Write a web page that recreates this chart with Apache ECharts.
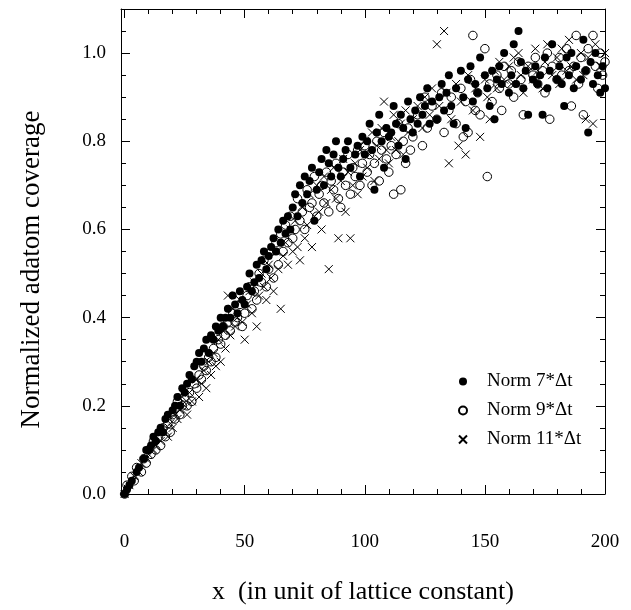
<!DOCTYPE html>
<html>
<head>
<meta charset="utf-8">
<script src="https://cdn.jsdelivr.net/npm/echarts@6/dist/echarts.min.js"></script>
<style>
html,body{margin:0;padding:0;background:#fff;}
#chart{width:631px;height:610px;}
</style>
</head>
<body>
<div id="chart"></div>
<script>
// ---- data ----
var seriesNames = ['Norm 7*\u0394t', 'Norm 9*\u0394t', 'Norm 11*\u0394t'];
var xTickValues = [0,10,20,30,40,50,60,70,80,90,100,110,120,130,140,150,160,170,180,190,200];
var xLabelValues = [0,50,100,150,200];
var yTickValues = [0,0.05,0.1,0.15,0.2,0.25,0.3,0.35,0.4,0.45,0.5,0.55,0.6,0.65,0.7,0.75,0.8,0.85,0.9,0.95,1.0,1.05];
var yLabelValues = [0,0.2,0.4,0.6,0.8,1.0];

var norm7 = [
[0,0.0],[1,0.01],[2,0.02],[3,0.03],[5,0.05],[6,0.06],[8,0.08],[9,0.1],[10,0.1],
[11,0.11],[12,0.13],[13,0.12],[14,0.14],[15,0.15],[16,0.14],[17,0.17],[18,0.18],[20,0.19],
[21,0.2],[22,0.22],[23,0.2],[24,0.24],[25,0.23],[26,0.25],[27,0.27],[28,0.26],[29,0.29],[30,0.3],
[31,0.32],[32,0.3],[33,0.33],[34,0.35],[35,0.32],[36,0.36],[37,0.35],[38,0.38],[39,0.37],[40,0.4],
[41,0.38],[42,0.4],[43,0.42],[44,0.4],[45,0.45],[46,0.43],[47,0.41],[48,0.46],[49,0.44],[50,0.43],
[51,0.47],[52,0.5],[53,0.46],[54,0.48],[55,0.52],[56,0.49],[57,0.53],[58,0.55],[59,0.51],[60,0.54],
[61,0.56],[62,0.58],[63,0.55],[64,0.6],[65,0.57],[66,0.62],[67,0.59],[68,0.63],[69,0.6],[70,0.65],
[71,0.68],[72,0.63],[73,0.7],[74,0.66],[75,0.72],[76,0.68],[77,0.71],[78,0.74],[79,0.62],[80,0.69],
[81,0.73],[82,0.76],[83,0.7],[84,0.78],[85,0.75],[86,0.72],[87,0.77],[88,0.8],[89,0.74],[90,0.72],
[91,0.76],[92,0.78],[93,0.8],[94,0.74],[96,0.77],[97,0.79],[98,0.72],[99,0.81],[100,0.77],
[101,0.8],[102,0.84],[103,0.78],[104,0.69],[105,0.82],[106,0.86],[107,0.8],[108,0.74],[109,0.83],[110,0.81],
[111,0.82],[112,0.88],[113,0.84],[114,0.79],[115,0.86],[116,0.83],[117,0.76],[118,0.89],[119,0.85],[120,0.82],
[121,0.87],[122,0.84],[123,0.9],[124,0.86],[125,0.88],[126,0.92],[127,0.84],[128,0.89],[130,0.85],
[131,0.9],[132,0.93],[133,0.87],[134,0.91],[135,0.95],[136,0.88],[137,0.84],[138,0.92],[140,0.96],
[141,0.9],[142,0.83],[143,0.94],[144,0.97],[145,0.89],[146,0.93],[147,0.91],[148,0.99],[150,0.95],
[151,0.92],[152,0.88],[153,0.96],[154,0.85],[155,0.94],[156,0.97],[157,0.93],[158,1.0],[160,0.91],
[161,0.95],[162,1.02],[163,0.93],[164,1.05],[165,0.98],[166,0.92],[167,0.96],[168,0.86],[170,0.94],
[171,0.97],[172,0.93],[173,0.95],[174,0.86],[175,0.99],[176,0.92],[177,0.96],[178,1.02],[180,0.94],
[181,0.97],[182,0.93],[183,0.88],[184,0.99],[185,0.95],[186,1.0],[187,0.92],[188,0.97],[190,0.94],
[191,1.03],[192,0.96],[193,0.82],[194,0.98],[195,0.93],[196,1.0],[197,0.95],[198,0.91],[199,0.97],[200,0.92]
];

var norm9 = [
[0,0.0],[1,0.02],[3,0.04],[4,0.03],[5,0.06],[7,0.05],[8,0.08],[9,0.07],[10,0.1],[11,0.09],
[12,0.12],[13,0.1],[14,0.13],[15,0.11],[16,0.15],[17,0.13],[18,0.16],[19,0.14],[20,0.18],[21,0.17],
[22,0.21],[23,0.18],[24,0.2],[25,0.22],[26,0.2],[27,0.23],[28,0.21],[29,0.25],[30,0.24],[31,0.27],
[32,0.26],[33,0.29],[34,0.28],[35,0.31],[36,0.3],[37,0.33],[38,0.31],[39,0.35],[40,0.34],[41,0.38],
[42,0.36],[43,0.39],[44,0.37],[45,0.41],[46,0.39],[47,0.4],[48,0.43],[49,0.38],[50,0.41],[51,0.45],
[52,0.47],[53,0.42],[54,0.46],[55,0.44],[56,0.5],[57,0.48],[58,0.53],[59,0.47],[60,0.51],[61,0.55],
[62,0.49],[63,0.57],[64,0.52],[65,0.59],[66,0.55],[67,0.61],[68,0.57],[69,0.63],[70,0.58],[71,0.6],
[72,0.67],[73,0.62],[74,0.64],[75,0.6],[76,0.69],[77,0.65],[78,0.66],[79,0.72],[80,0.63],[81,0.68],
[82,0.7],[83,0.66],[84,0.73],[85,0.64],[86,0.71],[87,0.69],[88,0.75],[89,0.67],[90,0.65],[91,0.73],
[92,0.7],[93,0.77],[94,0.68],[95,0.74],[96,0.72],[97,0.78],[98,0.7],[99,0.75],[100,0.79],[101,0.73],
[102,0.77],[103,0.7],[104,0.75],[105,0.8],[106,0.71],[107,0.78],[108,0.82],[109,0.76],[110,0.73],
[111,0.79],[112,0.68],[113,0.77],[114,0.84],[115,0.69],[116,0.8],[117,0.75],[118,0.83],[119,0.78],
[120,0.81],[122,0.86],[124,0.79],[125,0.9],[126,0.83],[128,0.88],[130,0.85],[132,0.91],[133,0.82],
[135,0.87],[136,0.9],[138,0.84],[140,0.92],[141,0.81],[142,0.89],[143,0.82],[144,0.94],[145,1.04],
[146,0.87],[147,0.91],[148,0.86],[150,1.01],[151,0.72],[152,0.93],[153,0.89],[155,0.95],[156,0.92],
[157,0.87],[158,0.97],[160,0.93],[161,0.96],[162,0.9],[164,0.98],[165,0.94],[166,0.86],[168,0.97],
[170,0.95],[171,0.99],[172,0.93],[174,0.96],[175,0.91],[176,1.0],[177,0.85],[178,0.97],[180,0.94],
[181,0.99],[182,0.95],[184,1.01],[185,0.96],[186,0.88],[187,0.97],[188,1.04],[189,0.93],[190,0.99],
[191,0.86],[192,0.96],[193,1.01],[195,1.04],[196,0.97],[197,0.92],[198,1.0],[199,0.95],[200,0.98]
];

var norm11 = [
[0,0.0],[2,0.02],[4,0.04],[6,0.05],[7,0.07],[9,0.08],[10,0.09],[12,0.1],[13,0.11],[15,0.12],
[16,0.14],[18,0.13],[19,0.16],[20,0.15],[21,0.18],[22,0.17],[23,0.19],[24,0.22],[25,0.2],[26,0.18],
[27,0.23],[28,0.21],[30,0.26],[31,0.22],[32,0.25],[33,0.28],[34,0.24],[35,0.3],[36,0.27],[37,0.32],
[38,0.29],[39,0.35],[40,0.3],[41,0.37],[42,0.33],[43,0.45],[44,0.36],[45,0.42],[46,0.38],[47,0.4],
[48,0.44],[49,0.39],[50,0.35],[51,0.43],[52,0.46],[53,0.41],[54,0.48],[55,0.38],[56,0.45],[57,0.5],
[58,0.47],[59,0.44],[60,0.52],[61,0.49],[62,0.46],[63,0.55],[64,0.51],[65,0.42],[66,0.54],[67,0.57],
[68,0.52],[69,0.6],[70,0.55],[71,0.62],[72,0.56],[73,0.53],[74,0.65],[75,0.58],[76,0.61],[77,0.68],
[78,0.56],[79,0.63],[80,0.7],[81,0.64],[82,0.6],[83,0.72],[84,0.66],[85,0.51],[86,0.69],[87,0.74],
[88,0.67],[89,0.58],[90,0.71],[91,0.76],[92,0.64],[93,0.73],[94,0.58],[95,0.7],[96,0.75],[97,0.68],
[98,0.78],[99,0.72],[100,0.8],[101,0.74],[102,0.77],[103,0.82],[104,0.71],[105,0.79],[106,0.76],
[107,0.83],[108,0.89],[109,0.78],[110,0.75],[111,0.81],[112,0.86],[113,0.78],[114,0.8],[115,0.84],
[116,0.77],[117,0.87],[118,0.82],[120,0.85],[122,0.88],[124,0.83],[125,0.9],[127,0.86],[128,0.92],
[130,1.02],[131,0.88],[133,1.05],[134,0.91],[135,0.75],[136,0.85],[138,0.93],[139,0.79],[140,0.89],
[142,0.77],[143,0.95],[145,0.87],[146,0.92],[148,0.81],[150,0.94],[151,0.9],[152,0.85],[154,0.96],
[155,0.92],[156,0.98],[158,0.94],[160,0.97],[161,0.93],[162,0.99],[164,1.0],[165,0.95],[166,0.91],
[168,0.97],[170,0.94],[171,1.01],[172,0.96],[174,0.92],[175,0.98],[176,1.02],[178,0.95],[180,0.99],
[181,0.93],[182,1.01],[184,0.96],[185,1.03],[186,0.97],[188,0.94],[190,1.0],[191,0.95],[192,0.85],
[193,0.99],[195,0.84],[196,1.02],[198,0.97],[200,1.0]
];

// ---- chart ----
var FONT = '"Liberation Serif", "DejaVu Serif", serif';
var chart = echarts.init(document.getElementById('chart'), null, {renderer: 'canvas'});
var lineStyle = {color: '#000', width: 1};
var XMIN = -1.5, XMAX = 200, YMIN = 0, YMAX = 1.1;

function xAx(extra) {
  return Object.assign({
    type: 'value', min: XMIN, max: XMAX, position: 'bottom',
    axisLine: {show: false, onZero: false, lineStyle: lineStyle},
    axisTick: {show: false},
    axisLabel: {show: false},
    splitLine: {show: false}
  }, extra);
}
function yAx(extra) {
  return Object.assign({
    type: 'value', min: YMIN, max: YMAX, position: 'left',
    axisLine: {show: false, onZero: false, lineStyle: lineStyle},
    axisTick: {show: false},
    axisLabel: {show: false},
    splitLine: {show: false}
  }, extra);
}

var option = {
  backgroundColor: '#fff',
  animation: false,
  grid: {left: 121, right: 26, top: 9, bottom: 113, containLabel: false},
  legend: {
    orient: 'vertical', left: 453, top: 367,
    itemWidth: 8, itemHeight: 8, itemGap: 10,
    data: seriesNames,
    textStyle: {fontFamily: FONT, fontSize: 19, color: '#000', padding: [0, 0, 0, 15]}
  },
  xAxis: [
    xAx({
      name: 'x  (in unit of lattice constant)', nameLocation: 'middle', nameGap: 85,
      nameTextStyle: {fontFamily: FONT, fontSize: 26, color: '#000'},
      axisLine: {show: true, onZero: false, lineStyle: lineStyle},
      axisTick: {show: true, inside: true, length: 5, lineStyle: lineStyle, customValues: xTickValues},
      axisLabel: {show: true, margin: 39, fontFamily: FONT, fontSize: 19, color: '#000', customValues: xLabelValues}
    }),
    xAx({axisTick: {show: true, inside: true, length: 9, lineStyle: lineStyle, customValues: xLabelValues}}),
    xAx({position: 'top',
      axisLine: {show: true, onZero: false, lineStyle: lineStyle},
      axisTick: {show: true, inside: true, length: 5, lineStyle: lineStyle, customValues: xTickValues}}),
    xAx({position: 'top',
      axisTick: {show: true, inside: true, length: 9, lineStyle: lineStyle, customValues: xLabelValues}})
  ],
  yAxis: [
    yAx({
      name: 'Normalized adatom coverage', nameLocation: 'middle', nameGap: 76,
      nameTextStyle: {fontFamily: FONT, fontSize: 27, color: '#000', padding: [0, 36, 0, 0]},
      axisLine: {show: true, onZero: false, lineStyle: lineStyle},
      axisTick: {show: true, inside: true, length: 5, lineStyle: lineStyle, customValues: yTickValues},
      axisLabel: {show: true, margin: 15, fontFamily: FONT, fontSize: 19, color: '#000',
        customValues: yLabelValues,
        formatter: function (v) { return v.toFixed(1); }}
    }),
    yAx({axisTick: {show: true, inside: true, length: 9, lineStyle: lineStyle, customValues: yLabelValues}}),
    yAx({position: 'right',
      axisLine: {show: true, onZero: false, lineStyle: lineStyle},
      axisTick: {show: true, inside: true, length: 5, lineStyle: lineStyle, customValues: yTickValues}}),
    yAx({position: 'right',
      axisTick: {show: true, inside: true, length: 9, lineStyle: lineStyle, customValues: yLabelValues}})
  ],
  series: [
    {name: seriesNames[0], type: 'scatter', data: norm7, symbol: 'circle', symbolSize: 8,
     itemStyle: {color: '#000', borderColor: '#000', borderWidth: 0, opacity: 1}},
    {name: seriesNames[1], type: 'scatter', data: norm9, symbol: 'circle', symbolSize: 8.5,
     itemStyle: {color: 'rgba(255,255,255,0)', borderColor: '#000', borderWidth: 1, opacity: 1}},
    {name: seriesNames[2], type: 'scatter', data: norm11, symbol: 'path://M0,0L10,10M10,0L0,10', symbolSize: 8,
     itemStyle: {color: 'rgba(255,255,255,0)', borderColor: '#000', borderWidth: 1, opacity: 1}}
  ]
};
chart.setOption(option);
</script>
</body>
</html>
